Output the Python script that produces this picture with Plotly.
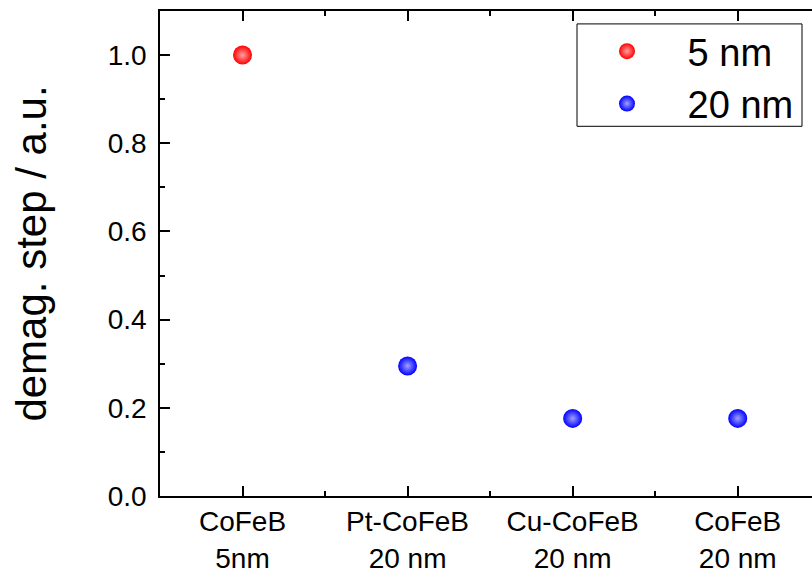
import plotly.graph_objects as go

categories = ["CoFeB<br>5nm", "Pt-CoFeB<br>20 nm", "Cu-CoFeB<br>20 nm", "CoFeB<br>20 nm"]
x_5nm = [0]
y_5nm = [1.0]
x_20nm = [1, 2, 3]
y_20nm = [0.295, 0.176, 0.176]
y_ticks = [0.0, 0.2, 0.4, 0.6, 0.8, 1.0]
series_names = ["5 nm", "20 nm"]

FONT = "Liberation Sans, Arial, sans-serif"
L, R, T, B = 160, 812, 11, 499
pw, ph = R - L, B - T

def px(x):
    return (x - L) / pw

def py(y):
    return (B - y) / ph

fig = go.Figure()
fig.add_trace(go.Scatter(
    x=x_5nm, y=y_5nm, mode="markers", name="\u00a0" + series_names[0],
    marker=dict(size=19, color="#FF0000", line=dict(width=0),
                gradient=dict(type="radial", color="#FFA0A0")),
))
fig.add_trace(go.Scatter(
    x=x_20nm, y=y_20nm, mode="markers", name="\u00a0" + series_names[1],
    marker=dict(size=19, color="#0000FF", line=dict(width=0),
                gradient=dict(type="radial", color="#A0A0FF")),
))

fig.add_shape(type="rect", xref="paper", yref="paper",
              x0=px(577), x1=px(802), y0=py(127), y1=py(24),
              line=dict(color="black", width=1), fillcolor="white", layer="above")

fig.update_layout(
    width=812, height=574,
    margin=dict(l=L, r=812 - R, t=T, b=574 - B),
    paper_bgcolor="white", plot_bgcolor="white",
    font=dict(family=FONT, color="black"),
    showlegend=True,
    legend=dict(
        x=px(577), y=py(20), xanchor="left", yanchor="top",
        borderwidth=0, bgcolor="rgba(0,0,0,0)",
        font=dict(size=38, family=FONT), itemwidth=90,
        tracegroupgap=0,
    ),
    xaxis=dict(
        range=[-0.5, 3.45], showgrid=False, zeroline=False,
        showline=True, linecolor="black", linewidth=1.5, mirror="allticks",
        tickmode="array", tickvals=[0, 1, 2, 3], ticktext=categories,
        ticks="inside", ticklen=10, tickwidth=1.5, tickcolor="black",
        tickfont=dict(size=28, family=FONT, color="black"),
        minor=dict(tick0=0.5, dtick=1, ticks="inside", ticklen=5, tickwidth=1.5, tickcolor="black"),
    ),
    yaxis=dict(
        range=[0, 1.1], showgrid=False, zeroline=False,
        showline=True, linecolor="black", linewidth=1.5,
        tickmode="array", tickvals=y_ticks, tickformat=".1f",
        ticks="inside", ticklen=10, tickwidth=1.5, tickcolor="black",
        tickfont=dict(size=28, family=FONT, color="black"),
        ticklabelstandoff=6,
        minor=dict(tick0=0.1, dtick=0.2, ticks="inside", ticklen=5, tickwidth=1.5, tickcolor="black"),
        title=dict(text="demag. step / a.u.", font=dict(size=42, family=FONT, color="black"), standoff=48),
    ),
)

fig.write_html("out.html")
